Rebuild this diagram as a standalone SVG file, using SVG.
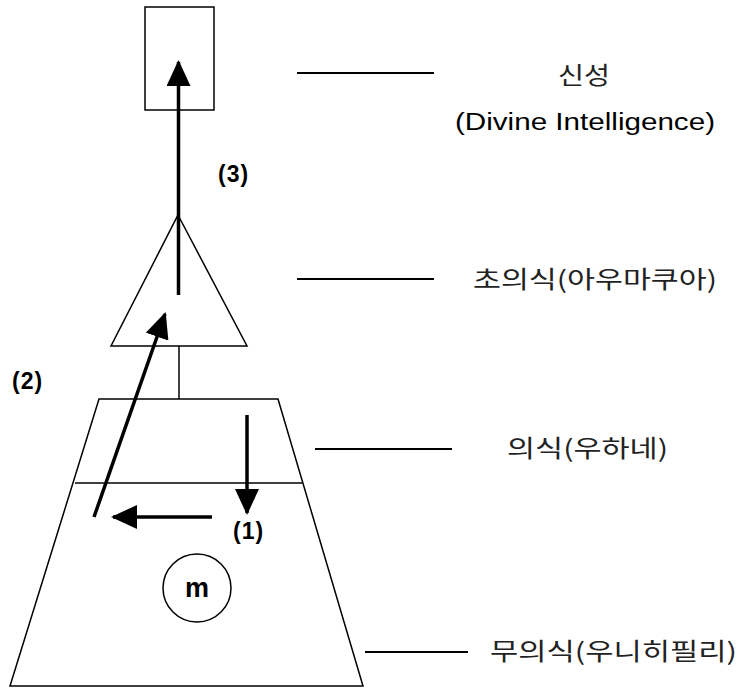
<svg xmlns="http://www.w3.org/2000/svg" width="738" height="688" viewBox="0 0 738 688">
<style>
.s{fill:none;stroke:#000;stroke-width:1.5}
.a{fill:none;stroke:#000;stroke-width:3.5}
.l{stroke:#000;stroke-width:2}
.t{font-family:"Liberation Sans","Noto Sans CJK KR",sans-serif;font-size:23px;fill:#000}
.k{font-family:"Noto Sans CJK KR","Liberation Sans",sans-serif;font-size:24px;fill:#222}
text.n{font-family:"Liberation Sans",sans-serif;font-size:23px;font-weight:bold;fill:#000;letter-spacing:1px}
</style>
<defs>
<marker id="ahb" markerWidth="26" markerHeight="24" refX="24" refY="12" orient="auto" markerUnits="userSpaceOnUse" viewBox="0 0 26 24">
<path d="M0,0 L26,12 L0,24 z" fill="#000"/>
</marker>
</defs>
<rect width="738" height="688" fill="#fff"/>
<g id="divine">
<rect class="s" x="145" y="7" width="69" height="103"/>
</g>
<g id="superconscious">
<polygon class="s" points="178,215 247,346 111,346"/>
</g>
<g id="conscious">
<polygon class="s" points="99,399 278,399 363,686 10,686"/>
<line class="s" x1="75" y1="483" x2="302" y2="483"/>
</g>
<g id="m-node">
<circle class="s" cx="197" cy="588" r="34"/>
<text x="197" y="597" text-anchor="middle" style="font-family:'Liberation Sans',sans-serif;font-size:27px;font-weight:bold">m</text>
</g>
<g id="connectors">
<line class="s" x1="179" y1="346" x2="179" y2="399"/>
<line class="a" x1="178.5" y1="295" x2="178.5" y2="62" marker-end="url(#ahb)"/>
<line class="a" x1="247" y1="415" x2="247" y2="513" marker-end="url(#ahb)"/>
<line class="a" x1="212" y1="517" x2="113" y2="517" marker-end="url(#ahb)"/>
<line class="a" x1="94" y1="517" x2="165" y2="314" marker-end="url(#ahb)"/>
<line class="l" x1="297" y1="73" x2="434" y2="73"/>
<line class="l" x1="297" y1="279" x2="434" y2="279"/>
<line class="l" x1="315" y1="449" x2="452" y2="449"/>
<line class="l" x1="365" y1="652" x2="468" y2="652"/>
</g>
<g id="labels">
<text class="n" x="218" y="182">(3)</text>
<text class="n" x="12" y="389">(2)</text>
<text class="n" x="233" y="539">(1)</text>
<text class="k" x="584" y="84" text-anchor="middle" textLength="52" lengthAdjust="spacingAndGlyphs">신성</text>
<text class="t" x="455" y="130" textLength="260" lengthAdjust="spacingAndGlyphs">(Divine Intelligence)</text>
<text class="k" x="473" y="288" textLength="244" lengthAdjust="spacingAndGlyphs">초의식(아우마쿠아)</text>
<text class="k" x="507" y="457" textLength="161" lengthAdjust="spacingAndGlyphs">의식(우하네)</text>
<text class="k" x="490" y="660" textLength="247" lengthAdjust="spacingAndGlyphs">무의식(우니히필리)</text>
</g>
</svg>
